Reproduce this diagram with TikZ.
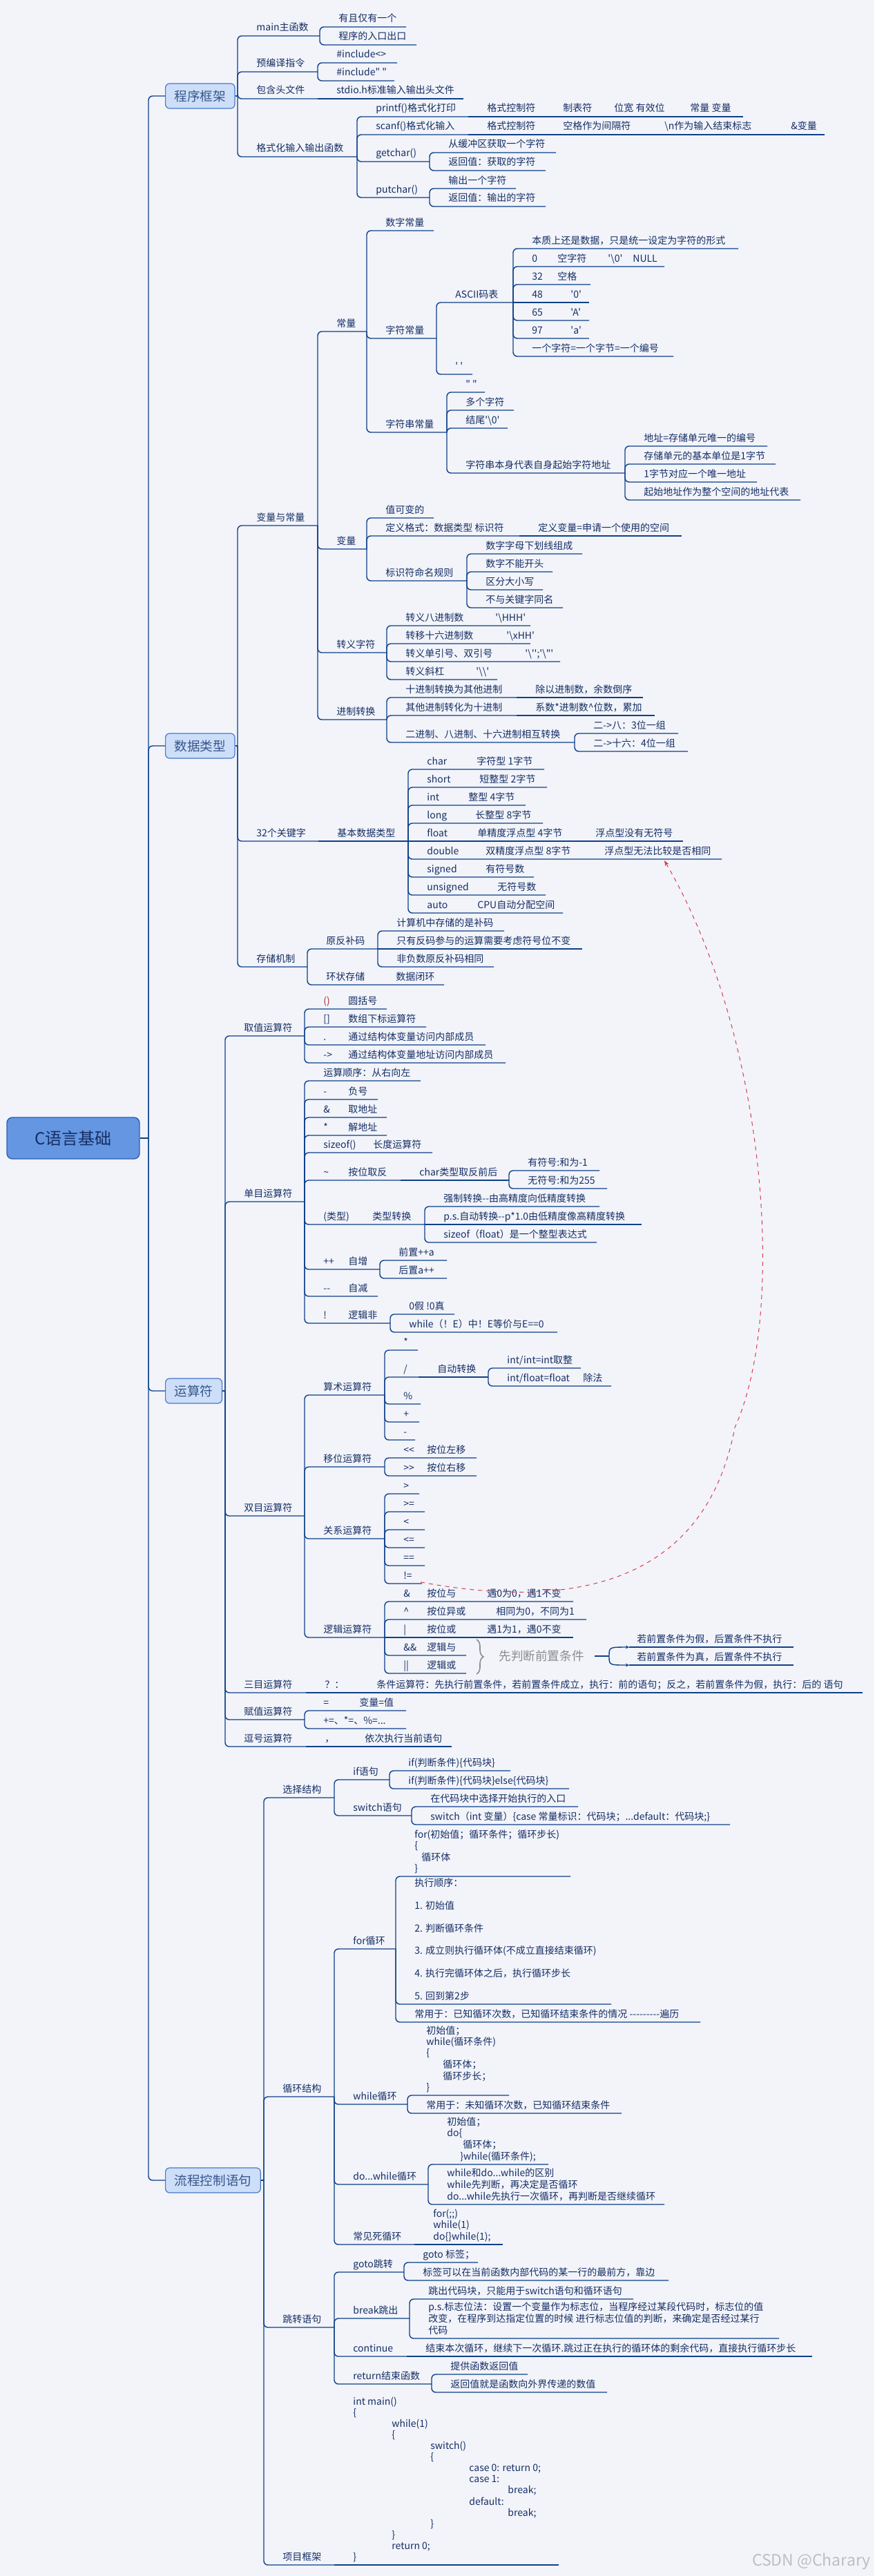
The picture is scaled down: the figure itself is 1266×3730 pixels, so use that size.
\documentclass[tikz,border=0pt]{standalone}
\usepackage{fontspec}
\usepackage{tikz}
\usetikzlibrary{
  arrows.meta,
  calc,
  decorations.pathreplacing
}
\font\itemf="Noto Sans CJK SC" at 7pt
\font\topicf="Noto Sans CJK SC" at 9.3pt
\font\rootf="Noto Sans CJK SC" at 12pt
\font\sumf="Noto Sans CJK SC" at 8.8pt
\font\markf="Noto Sans CJK SC" at 11.5pt
\definecolor{bgcolor}{RGB}{242, 244, 250}
\definecolor{linecolor}{RGB}{14, 64, 136}
\definecolor{textcolor}{RGB}{22, 46, 100}
\definecolor{topicfill}{RGB}{205, 222, 248}
\definecolor{topicline}{RGB}{70, 120, 200}
\definecolor{topictext}{RGB}{55, 85, 140}
\definecolor{rootfill}{RGB}{100, 150, 225}
\definecolor{rootline}{RGB}{45, 95, 175}
\definecolor{summarycolor}{RGB}{140, 140, 140}
\definecolor{relcolor}{RGB}{215, 60, 70}
\definecolor{markcolor}{RGB}{190, 190, 195}
\newlength\pxu
\setlength\pxu{0.5pt}
\newcommand\itemfont{\itemf\baselineskip=8pt\relax
  \setbox\strutbox\hbox{\vrule height5.6pt depth2.4pt width0pt}}
\newcommand\tb[2]{\makebox[#1\pxu][l]{#2}}
\newcommand\ind[1]{\hspace*{#1\pxu}}
\newcommand\lines[1]{\begin{tabular}[b]{@{}l@{}}#1\end{tabular}}
\tikzset{
branch/.style={
  draw=linecolor,
  line width=0.7pt,
  rounded corners=3pt
},
item/.style={
  anchor=base west,
  inner sep=0pt,
  font=\itemfont,
  text=textcolor
},
topic/.style={
  draw=topicline,
  fill=topicfill,
  rounded corners=3pt,
  line width=0.6pt,
  anchor=west,
  minimum height=18pt,
  inner xsep=6.5pt,
  font=\topicf,
  text=topictext
},
rootbox/.style={
  draw=rootline,
  fill=rootfill,
  rounded corners=4pt,
  line width=0.7pt,
  minimum height=30pt,
  minimum width=96pt,
  font=\rootf,
  text=textcolor
},
summary/.style={
  anchor=west,
  inner sep=0pt,
  font=\sumf,
  text=summarycolor
},
relation/.style={
  draw=relcolor,
  dashed,
  line width=0.5pt,
  -{Stealth[length=4pt,width=3pt]}
}
}
% child on its own underline, joined to the parent's spine
\newcommand\kid[5]{%
  \coordinate (#2-e) at (#4,#3);
  \draw[branch] (#1-e) -- (#1-e |- #2-e) -- (#2-e);
  \node[item] (#2) at ($(#1-e |- #2-e)+(27,-7)$) {#5};
}
% child continuing on the parent's line
\newcommand\same[4]{%
  \coordinate (#2-e) at (#1-e -| #3,0);
  \draw[branch] (#1-e) -- (#2-e);
  \node[item] (#2) at ($(#1-e)+(27,-7)$) {#4};
}

\begin{document}
\begin{tikzpicture}[x=0.5pt,y=-0.5pt]
\fill[bgcolor] (0,0) rectangle (1266,3730);
\useasboundingbox (0,0) rectangle (1266,3730);

\node[rootbox] (root) at (106,1648) {C语言基础};
\coordinate (root-e) at (215,1648);
\draw[branch] (root.east) -- (root-e);

\node[topic] (kj) at (239,139) {程序框架};
\node[topic] (sj) at (239,1080) {数据类型};
\node[topic] (ys) at (239,2014) {运算符};
\node[topic] (lc) at (239,3157) {流程控制语句};
\coordinate (kj-e) at (344,139);
\coordinate (sj-e) at (344,1080);
\coordinate (ys-e) at (326,2014);
\coordinate (lc-e) at (382,3157);
\foreach \t in {kj,sj,ys,lc}{
  \draw[branch] (root-e) -- (root-e |- \t.west) -- (\t.west);
  \draw[branch] (\t.east) -- (\t-e);
}

% 程序框架
\kid{kj}{mainf}{52}{463}{main主函数}
\kid{mainf}{mainA}{39}{588}{有且仅有一个}
\kid{mainf}{mainB}{65}{603}{程序的入口出口}
\kid{kj}{pre}{104}{460}{预编译指令}
\kid{pre}{preA}{91}{575}{\#include<>}
\kid{pre}{preB}{117}{571}{\#include" "}
\kid{kj}{inc}{143}{460}{包含头文件}
\same{inc}{incA}{671}{stdio.h标准输入输出头文件}
\kid{kj}{fio}{227}{517}{格式化输入输出函数}
\kid{fio}{pf}{169}{678}{printf()格式化打印}
\same{pf}{pfA}{788}{格式控制符}
\same{pfA}{pfB}{862}{制表符}
\same{pfB}{pfC}{972}{位宽\ 有效位}
\same{pfC}{pfD}{1076}{常量\ 变量}
\kid{fio}{sf}{195}{678}{scanf()格式化输入}
\same{sf}{sfA}{788}{格式控制符}
\same{sfA}{sfB}{935}{空格作为间隔符}
\same{sfB}{sfC}{1118}{\textbackslash n作为输入结束标志}
\same{sfC}{sfD}{1194}{\&变量}
\kid{fio}{gc}{234}{622}{getchar()}
\kid{gc}{gcA}{221}{805}{从缓冲区获取一个字符}
\kid{gc}{gcB}{247}{790}{返回值：获取的字符}
\kid{fio}{pc}{286}{622}{putchar()}
\kid{pc}{pcA}{273}{747}{输出一个字符}
\kid{pc}{pcB}{299}{790}{返回值：输出的字符}

% 数据类型
\kid{sj}{bl}{761}{460}{变量与常量}
\kid{bl}{cl}{480}{531}{常量}
\kid{cl}{szcl}{334}{628}{数字常量}
\kid{cl}{zfcl}{490}{632}{字符常量}
\kid{zfcl}{ascii}{438}{743}{ASCII码表}
\kid{ascii}{asA}{360}{1069}{本质上还是数据，只是统一设定为字符的形式}
\kid{ascii}{asB}{386}{962}{\tb{37}{0}\tb{73}{空字符}\tb{36}{'\textbackslash 0'}NULL}
\kid{ascii}{asC}{412}{855}{\tb{37}{32}空格}
\same{ascii}{asD}{853}{\tb{56}{48}'0'}
\kid{ascii}{asE}{464}{853}{\tb{56}{65}'A'}
\kid{ascii}{asF}{490}{853}{\tb{56}{97}'a'}
\kid{ascii}{asG}{516}{975}{一个字符=一个字节=一个编号}
\kid{zfcl}{sq}{542}{684}{' '}
\kid{cl}{zfccl}{626}{647}{字符串常量}
\kid{zfccl}{dq}{568}{702}{" "}
\kid{zfccl}{dgzf}{594}{744}{多个字符}
\kid{zfccl}{jw}{620}{735}{结尾'\textbackslash 0'}
\kid{zfccl}{qsdz}{685}{905}{字符串本身代表自身起始字符地址}
\kid{qsdz}{dzA}{646}{1111}{地址=存储单元唯一的编号}
\kid{qsdz}{dzB}{672}{1123}{存储单元的基本单位是1字节}
\kid{qsdz}{dzC}{698}{1096}{1字节对应一个唯一地址}
\kid{qsdz}{dzD}{724}{1159}{起始地址作为整个空间的地址代表}
\kid{bl}{bl2}{795}{531}{变量}
\kid{bl2}{bA}{750}{628}{值可变的}
\kid{bl2}{bB}{776}{752}{定义格式：数据类型 标识符}
\same{bB}{bBa}{987}{定义变量=申请一个使用的空间}
\kid{bl2}{bC}{841}{676}{标识符命名规则}
\kid{bC}{bCa}{802}{843}{数字字母下划线组成}
\kid{bC}{bCb}{828}{800}{数字不能开头}
\kid{bC}{bCc}{854}{786}{区分大小写}
\kid{bC}{bCd}{880}{815}{不与关键字同名}
\kid{bl}{zy}{945}{560}{转义字符}
\kid{zy}{zyA}{906}{768}{\tb{130}{转义八进制数}'\textbackslash HHH'}
\kid{zy}{zyB}{932}{768}{\tb{146}{转移十六进制数}'\textbackslash xHH'}
\kid{zy}{zyC}{958}{811}{\tb{173}{转义单引号、双引号}'\textbackslash'';'\textbackslash"'}
\kid{zy}{zyD}{984}{720}{\tb{102}{转义斜杠}'\textbackslash\textbackslash'}
\kid{bl}{jz}{1042}{560}{进制转换}
\kid{jz}{jzA}{1010}{748}{十进制转换为其他进制}
\same{jzA}{jzAa}{931}{除以进制数，余数倒序}
\kid{jz}{jzB}{1036}{748}{其他进制转化为十进制}
\same{jzB}{jzBa}{948}{系数*进制数\textasciicircum 位数，累加}
\kid{jz}{jzC}{1075}{832}{二进制、八进制、十六进制相互转换}
\kid{jzC}{jzCa}{1062}{982}{二->八：3位一组}
\kid{jzC}{jzCb}{1088}{996}{二->十六：4位一组}
\kid{sj}{gjz}{1218}{461}{32个关键字}
\same{gjz}{jb}{591}{基本数据类型}
\kid{jb}{tA}{1114}{788}{\tb{72}{char}字符型 1字节}
\kid{jb}{tB}{1140}{792}{\tb{76}{short}短整型 2字节}
\kid{jb}{tC}{1166}{761}{\tb{60}{int}整型 4字节}
\kid{jb}{tD}{1192}{786}{\tb{70}{long}长整型 8字节}
\same{jb}{tE}{989}{\tb{73}{float}\tb{171}{单精度浮点型 4字节}浮点型没有无符号}
\kid{jb}{tF}{1244}{1045}{\tb{85}{double}\tb{172}{双精度浮点型 8字节}浮点型无法比较是否相同}
\kid{jb}{tG}{1270}{773}{\tb{85}{signed}有符号数}
\kid{jb}{tH}{1296}{790}{\tb{102}{unsigned}无符号数}
\kid{jb}{tI}{1322}{815}{\tb{73}{auto}CPU自动分配空间}
\kid{sj}{cc}{1400}{445}{存储机制}
\kid{cc}{yfb}{1374}{547}{原反补码}
\kid{yfb}{yA}{1348}{730}{计算机中存储的是补码}
\same{yfb}{yB}{843}{只有反码参与的运算需要考虑符号位不变}
\kid{yfb}{yC}{1400}{715}{非负数原反补码相同}
\kid{cc}{hz}{1426}{643}{\tb{101}{环状存储}数据闭环}

% 运算符
\kid{ys}{qz}{1500}{441}{取值运算符}
\kid{qz}{qA}{1461}{560}{\tb{36}{\color{relcolor!80!black}()}圆括号}
\kid{qz}{qB}{1487}{617}{\tb{36}{[]}数组下标运算符}
\kid{qz}{qC}{1513}{703}{\tb{36}{.}通过结构体变量访问内部成员}
\kid{qz}{qD}{1539}{732}{\tb{36}{->}通过结构体变量地址访问内部成员}
\kid{ys}{dm}{1740}{441}{单目运算符}
\kid{dm}{dA}{1565}{609}{运算顺序：从右向左}
\kid{dm}{dB}{1592}{547}{\tb{36}{-}负号}
\kid{dm}{dC}{1618}{560}{\tb{36}{\&}取地址}
\kid{dm}{dD}{1644}{560}{\tb{36}{*}解地址}
\kid{dm}{dE}{1669}{626}{\tb{72}{sizeof()}长度运算符}
\kid{dm}{dF}{1709}{580}{\tb{36}{\textasciitilde}按位取反}
\same{dF}{dFa}{737}{char类型取反前后}
\kid{dFa}{dFb}{1695}{868}{有符号:和为-1}
\kid{dFa}{dFc}{1721}{879}{无符号:和为255}
\kid{dm}{dG}{1773}{615}{\tb{71}{(类型)}类型转换}
\kid{dG}{dGa}{1747}{868}{强制转换--由高精度向低精度转换}
\same{dG}{dGb}{929}{p.s.自动转换--p*1.0由低精度像高精度转换}
\kid{dG}{dGc}{1799}{864}{sizeof（float）是一个整型表达式}
\kid{dm}{dH}{1838}{550}{\tb{36}{++}自增}
\kid{dH}{dHa}{1825}{647}{前置++a}
\kid{dH}{dHb}{1851}{647}{后置a++}
\kid{dm}{dI}{1877}{547}{\tb{36}{--}自减}
\kid{dm}{dJ}{1916}{565}{\tb{36}{!}逻辑非}
\kid{dJ}{dJa}{1903}{658}{0假 !0真}
\kid{dJ}{dJb}{1929}{807}{while（！E）中！E等价与E==0}
\kid{ys}{sm}{2195}{441}{双目运算符}
\kid{sm}{ss}{2020}{557}{算术运算符}
\kid{ss}{sA}{1955}{605}{*}
\kid{ss}{sB}{1994}{606}{/}
\same{sB}{sBa}{707}{自动转换}
\kid{sBa}{sBb}{1981}{841}{int/int=int取整}
\kid{sBa}{sBc}{2007}{885}{\tb{110}{int/float=float}除法}
\kid{ss}{sC}{2033}{609}{\%}
\kid{ss}{sD}{2059}{607}{+}
\kid{ss}{sE}{2085}{601}{-}
\kid{sm}{yw}{2124}{557}{移位运算符}
\kid{yw}{ywA}{2111}{690}{\tb{34}{<<}按位左移}
\kid{yw}{ywB}{2137}{690}{\tb{34}{>>}按位右移}
\kid{sm}{gx}{2228}{557}{关系运算符}
\kid{gx}{gA}{2163}{607}{>}
\kid{gx}{gB}{2189}{615}{>=}
\kid{gx}{gC}{2215}{615}{<}
\kid{gx}{gD}{2241}{615}{<=}
\kid{gx}{gE}{2267}{615}{==}
\kid{gx}{gF}{2293}{611}{!=}
\kid{sm}{lj}{2371}{557}{逻辑运算符}
\kid{lj}{lA}{2319}{830}{\tb{34}{\&}\tb{87}{按位与}遇0为0，遇1不变}
\kid{lj}{lB}{2345}{849}{\tb{34}{\textasciicircum}\tb{100}{按位异或}相同为0，不同为1}
\same{lj}{lC}{830}{\tb{34}{|}\tb{87}{按位或}遇1为1，遇0不变}
\kid{lj}{lD}{2397}{675}{\tb{34}{\&\&}逻辑与}
\kid{lj}{lE}{2423}{675}{\tb{34}{||}逻辑或}

\draw[summarycolor, line width=0.8pt, decorate, decoration={brace, amplitude=5pt}]
  (690,2374) -- (690,2424);
\node[summary] (sumt) at (722,2398) {先判断前置条件};
\coordinate (sum-s) at (861,2398);
\coordinate (sum-e) at (882,2398);
\coordinate (rq1-s) at (911,2385);
\coordinate (rq2-s) at (911,2411);
\coordinate (rq1-e) at (1149,2385);
\coordinate (rq2-e) at (1149,2411);
\draw[branch] (sum-s) -- (sum-e);
\foreach \r in {rq1,rq2}{
  \draw[draw=linecolor, line width=0.7pt, -{Stealth[length=2.5pt,width=2.5pt]}]
    (sum-e) .. controls (sum-e |- \r-s) .. (\r-s);
  \draw[branch] (\r-s) -- (\r-e);
}
\node[item] (rq1) at ($(rq1-s)+(11,-7)$) {若前置条件为假，后置条件不执行};
\node[item] (rq2) at ($(rq2-s)+(11,-7)$) {若前置条件为真，后置条件不执行};

\kid{ys}{sanm}{2451}{443}{三目运算符}
\same{sanm}{smA}{518}{？：}
\same{smA}{smB}{1249}{条件运算符：先执行前置条件，若前置条件成立，执行：前的语句；反之，若前置条件为假，执行：后的 语句}
\kid{ys}{fz}{2490}{441}{赋值运算符}
\kid{fz}{fzA}{2477}{588}{\tb{52}{=}变量=值}
\kid{fz}{fzB}{2503}{588}{+=、*=、\%=...}
\kid{ys}{dh}{2529}{443}{逗号运算符}
\same{dh}{dhA}{501}{，}
\same{dhA}{dhB}{654}{依次执行当前语句}

% 流程控制语句
\kid{lc}{xz}{2603}{484}{选择结构}
\kid{xz}{ifs}{2577}{564}{if语句}
\kid{ifs}{ifA}{2564}{739}{if(判断条件)\{代码块\}}
\kid{ifs}{ifB}{2590}{824}{if(判断条件)\{代码块\}else\{代码块\}}
\kid{xz}{sw}{2629}{596}{switch语句}
\kid{sw}{swA}{2616}{837}{在代码块中选择开始执行的入口}
\kid{sw}{swB}{2642}{1057}{switch（int 变量）\{case 常量标识：代码块；...default：代码块;\}}
\kid{lc}{xh}{3036}{484}{循环结构}
\kid{xh}{forl}{2822}{573}{for循环}
\kid{forl}{fA}{2717}{826}{\lines{for(初始值；循环条件；循环步长)\\\{\\\ind{10}循环体\\\}}}
\kid{forl}{fB}{2902}{885}{\lines{执行顺序：\\ \\1. 初始值\\ \\2. 判断循环条件\\ \\3. 成立则执行循环体(不成立直接结束循环)\\ \\4. 执行完循环体之后，执行循环步长\\ \\5. 回到第2步}}
\kid{forl}{fC}{2928}{1014}{常用于：已知循环次数，已知循环结束条件的情况 ---------遍历}
\kid{xh}{wh}{3047}{590}{while循环}
\kid{wh}{wA}{3034}{737}{\lines{初始值；\\while(循环条件)\\\{\\\ind{24}循环体；\\\ind{24}循环步长；\\\}}}
\kid{wh}{wB}{3060}{900}{常用于：未知循环次数，已知循环结束条件}
\kid{xh}{dw}{3163}{620}{do...while循环}
\kid{dw}{dwA}{3134}{794}{\lines{初始值；\\do\{\\\ind{23}循环体；\\\ind{19}\}while(循环条件);}}
\kid{dw}{dwB}{3192}{962}{\lines{while和do...while的区别\\while先判断，再决定是否循环\\do...while先执行一次循环，再判断是否继续循环}}
\kid{xh}{sx}{3250}{600}{常见死循环}
\same{sx}{sxA}{728}{\lines{for(;;)\\while(1)\\do\{\}while(1);}}
\kid{lc}{tz}{3370}{484}{跳转语句}
\kid{tz}{gt}{3290}{585}{goto跳转}
\kid{gt}{gtA}{3276}{692}{goto 标签；}
\kid{gt}{gtB}{3302}{968}{标签可以在当前函数内部代码的某一行的最前方，靠边}
\kid{tz}{br}{3357}{593}{break跳出}
\kid{br}{brA}{3329}{917}{跳出代码块，只能用于switch语句和循环语句}
\kid{br}{brB}{3386}{1128}{\lines{p.s.标志位法：设置一个变量作为标志位，当程序经过某段代码时，标志位的值\\改变，在程序到达指定位置的时候 进行标志位值的判断，来确定是否经过某行\\代码}}
\kid{tz}{ct}{3412}{589}{continue}
\same{ct}{ctA}{1176}{结束本次循环，继续下一次循环.跳过正在执行的循环体的剩余代码，直接执行循环步长}
\kid{tz}{rt}{3452}{625}{return结束函数}
\kid{rt}{rtA}{3438}{764}{提供函数返回值}
\kid{rt}{rtB}{3464}{879}{返回值就是函数向外界传递的数值}
\kid{lc}{xm}{3714}{484}{项目框架}
\same{xm}{xmA}{809}{\lines{int main()\\\{\\\ind{56}while(1)\\\ind{56}\{\\\ind{112}switch()\\\ind{112}\{\\\ind{168}case 0: return 0;\\\ind{168}case 1:\\\ind{224}break;\\\ind{168}default:\\\ind{224}break;\\\ind{112}\}\\\ind{56}\}\\\ind{56}return 0;\\\}}}

% relation
\coordinate (relmid) at (1064,2067);
\coordinate (dbltip) at (962,1246);
\draw[relation] ($(gF.east)+(12,10)$) .. controls (820,2330) and (1020,2300) .. (relmid)
  .. controls (1140,1900) and (1110,1500) .. (dbltip);

\node[anchor=east, inner sep=0pt, font=\markf, text=markcolor] (mark) at (1261,3709) {CSDN @Charary};
\end{tikzpicture}
\end{document}
